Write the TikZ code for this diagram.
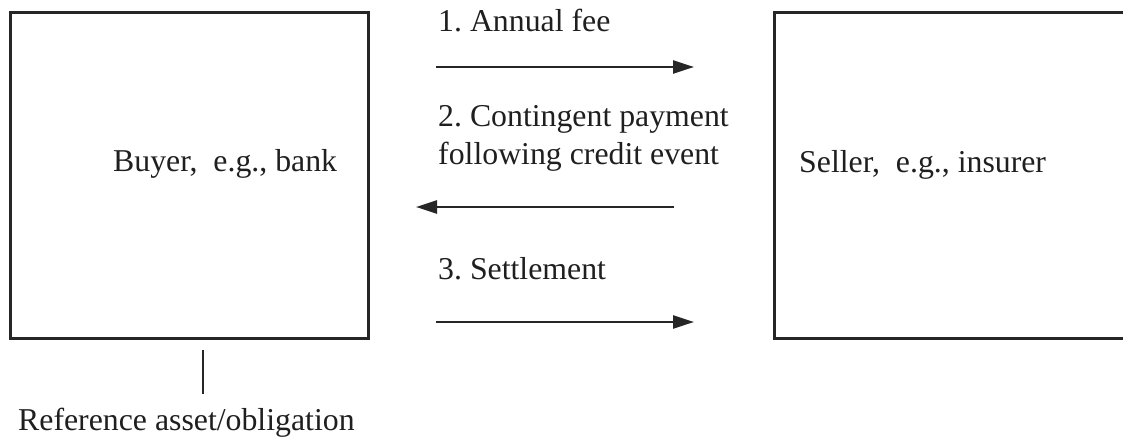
\documentclass[tikz,border=0pt]{standalone}
\usepackage{fontspec}
\setmainfont{Liberation Serif}
\frenchspacing
\usetikzlibrary{arrows.meta}
\begin{document}
\begin{tikzpicture}[x=1pt,y=-1pt,
  partybox/.style={draw=black!85, line width=3.2pt, fill=none, inner sep=0pt, anchor=north west},
  lbl/.style={inner sep=0pt, anchor=base west, font=\fontsize{31.8}{38}\selectfont\frenchspacing, text=black!88},
  flow/.style={draw=black!85, line width=2.4pt, -{Triangle[length=21pt,width=13pt]}},
  tie/.style={draw=black!85, line width=2.6pt}]
\useasboundingbox (0,0) rectangle (1123,436);
\clip (0,0) rectangle (1123,436);
% boxes
\node[partybox, minimum width=358pt, minimum height=326pt] (buyer) at (9,11) {};
\node[partybox, minimum width=400pt, minimum height=326pt] (seller) at (773,11) {};
% box texts
\node[lbl] (buyertxt) at (113,171) {Buyer,\ \ e.g., bank};
\node[lbl] (sellertxt) at (799,172) {Seller,\ \ e.g., insurer};
% flow labels
\node[lbl] (fee) at (438,32) {1. Annual fee};
\node[lbl] (cont1) at (438,126) {2. Contingent payment};
\node[lbl] (cont2) at (438,164) {following credit event};
\node[lbl] (settle) at (438,279) {3. Settlement};
% arrows
\coordinate (a1s) at (436,67); \coordinate (a1e) at (694,67);
\coordinate (a2s) at (674,207); \coordinate (a2e) at (416,207);
\coordinate (a3s) at (436,322); \coordinate (a3e) at (694,322);
\draw[flow] (a1s) -- (a1e);
\draw[flow] (a2s) -- (a2e);
\draw[flow] (a3s) -- (a3e);
% reference asset
\node[lbl] (ref) at (18,430) {Reference asset/obligation};
\coordinate (t1) at (203,350); \coordinate (t2) at (203,394);
\draw[tie] (t1) -- (t2);
\end{tikzpicture}
\end{document}
